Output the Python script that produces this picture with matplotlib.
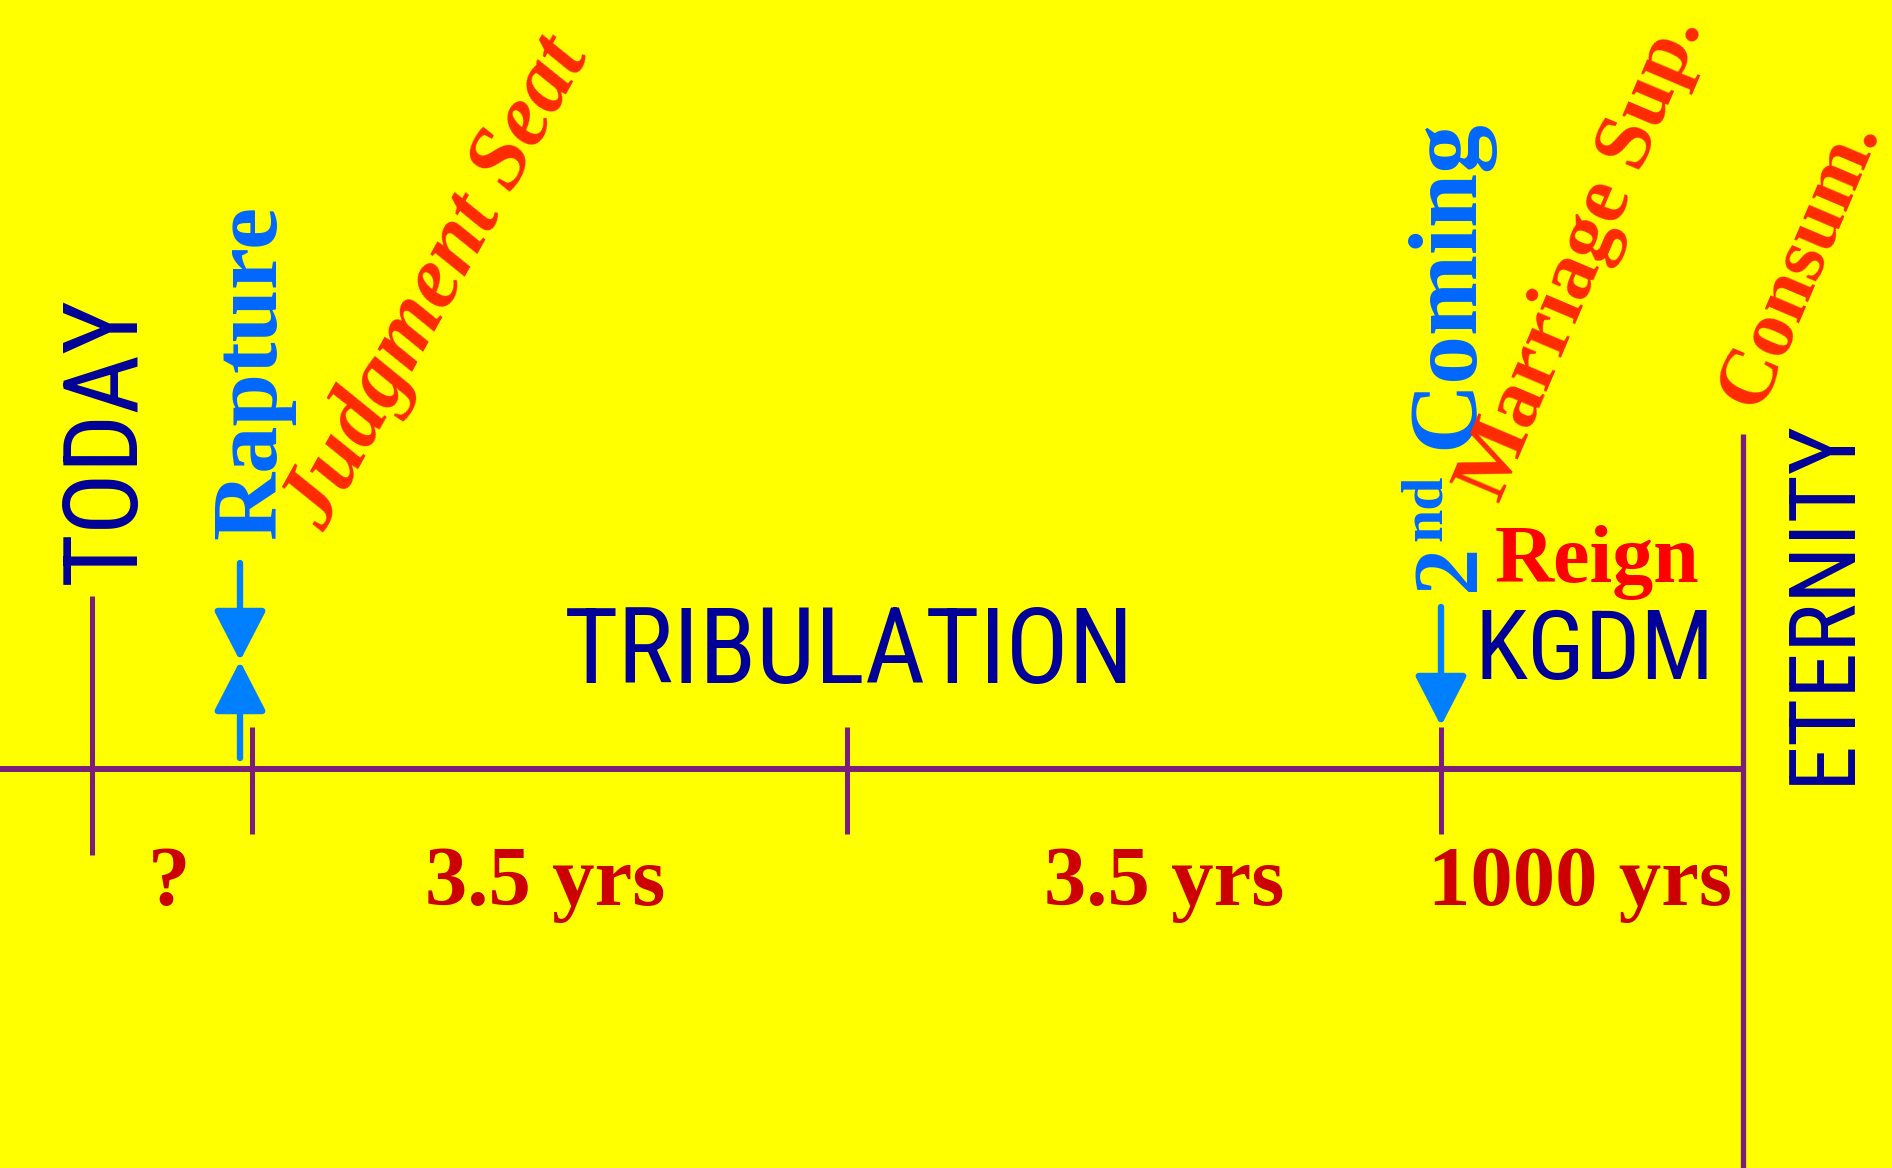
import matplotlib.pyplot as plt
from matplotlib import font_manager
from matplotlib.font_manager import FontProperties
from matplotlib.textpath import TextPath

# labels of the time line
stages = ['TODAY', 'Rapture', 'ETERNITY']
second_coming = ['2', 'nd', 'Coming']
periods = ['?', '3.5 yrs', '3.5 yrs', '1000 yrs']
events = ['Judgment Seat', 'Marriage Sup.', 'Consum.']
kingdom = ['Reign', 'KGDM']
middle = 'TRIBULATION'

# layout in pixel units
W, H = 1892, 1168
axis_y = 769
tick_x = [92, 252, 847, 1441]
end_x = 1743
period_x = [169, 545, 1164, 1580]

bg = '#FFFF00'
purple = '#7B1E7B'
navy = '#000099'
sky = '#0066FF'
arrow_c = '#0080FF'
orange = '#FF2A00'
dark_red = '#CC0000'

# look for a narrow sans face (the original uses a condensed grotesque)
skip = ['Bold', 'Italic', 'Oblique', 'Light', 'Medium', 'Black', 'Thin', 'Semi', 'Extra', 'Display']
narrow_file = None
for key in ['LiberationSansNarrow-Regular', 'NotoSans-Condensed', 'NotoSans-ExtraCondensed',
            'RobotoCondensed', 'OpenSans-Condensed', 'DejaVuSansCondensed']:
    hits = []
    for f in font_manager.fontManager.ttflist:
        base = f.fname.split('/')[-1]
        rest = base.replace(key, '')
        if key in base and not any(w in rest for w in skip):
            hits.append(f.fname)
    if hits:
        narrow_file = sorted(hits)[0]
        break
narrow = FontProperties(fname=narrow_file) if narrow_file else FontProperties(family='Liberation Sans')


def narrow_size(s, width, cap):
    # compromise between the size that gives the width and the one that gives the cap height
    w100 = TextPath((0, 0), s, size=100, prop=narrow).get_extents().width
    c100 = TextPath((0, 0), 'H', size=100, prop=narrow).get_extents().height
    px = (width / w100 * 100) ** 0.65 * (cap / c100 * 100) ** 0.35
    return px * 0.72


serif = 'Liberation Serif'

fig = plt.figure(figsize=(W / 100, H / 100), dpi=100, facecolor=bg)
ax = fig.add_axes([0, 0, 1, 1])
ax.set_facecolor(bg)
ax.set_xlim(0, W)
ax.set_ylim(H, 0)
ax.axis('off')

# main axis and ticks
ax.plot([0, end_x], [axis_y, axis_y], color=purple, lw=4.3, solid_capstyle='butt')
ax.plot([end_x, end_x], [434, H], color=purple, lw=3.8, solid_capstyle='butt')
ax.plot([tick_x[0], tick_x[0]], [596, 855], color=purple, lw=3.6, solid_capstyle='butt')
for x in tick_x[1:]:
    ax.plot([x, x], [727, 834], color=purple, lw=3.6, solid_capstyle='butt')

# arrows
head = dict(arrowstyle='-|>,head_length=1.55,head_width=0.8', color=arrow_c,
            lw=4.6, shrinkA=0, shrinkB=0, mutation_scale=20)
rx = tick_x[1] - 12
ax.annotate('', xy=(rx, 661), xytext=(rx, 563), arrowprops=head)
ax.annotate('', xy=(rx, 661), xytext=(rx, 758), arrowprops=head)
ax.annotate('', xy=(tick_x[3], 726), xytext=(tick_x[3], 607), arrowprops=head)

# vertical labels
vert = dict(rotation=90, rotation_mode='anchor', ha='left', va='baseline')
ax.text(135, 584, stages[0], color=navy, fontproperties=narrow,
        fontsize=narrow_size(stages[0], 267, 82), **vert)
ax.text(275, 539, stages[1], color=sky, fontsize=68, family=serif, weight='bold', **vert)
ax.text(1849, 784, stages[2], color=navy, fontproperties=narrow,
        fontsize=narrow_size(stages[2], 340, 72), **vert)
ax.text(1474, 591, second_coming[0], color=sky, fontsize=68, family=serif, weight='bold', **vert)
ax.text(1441, 541, second_coming[1], color=sky, fontsize=43, family=serif, weight='bold', **vert)
ax.text(1472, 449, second_coming[2], color=sky, fontsize=70, family=serif, weight='bold', **vert)

# slanted event labels
ax.text(437, 284, events[0], color=orange, fontsize=64, family=serif, weight='bold',
        style='italic', rotation=61, rotation_mode='anchor', ha='center', va='center')
ax.text(1583, 258, events[1], color=orange, fontsize=60, family=serif, weight='bold',
        rotation=67, rotation_mode='anchor', ha='center', va='center')
ax.text(1800, 263, events[2], color=orange, fontsize=58, family=serif, weight='bold',
        rotation=67, rotation_mode='anchor', ha='center', va='center')

# horizontal labels
ax.text(849, 683, middle, color=navy, fontproperties=narrow,
        fontsize=narrow_size(middle, 538, 80), ha='center', va='baseline')
ax.text(1597, 582, kingdom[0], color='#FF0000', fontsize=59, family=serif, weight='bold',
        ha='center', va='baseline')
ax.text(1594, 679, kingdom[1], color=navy, fontproperties=narrow,
        fontsize=narrow_size(kingdom[1], 220, 72), ha='center', va='baseline')

for x, lab in zip(period_x, periods):
    ax.text(x, 905, lab, color=dark_red, fontsize=61, family=serif, weight='bold',
            ha='center', va='baseline')

fig.savefig('out.png', dpi=100, facecolor=bg)
